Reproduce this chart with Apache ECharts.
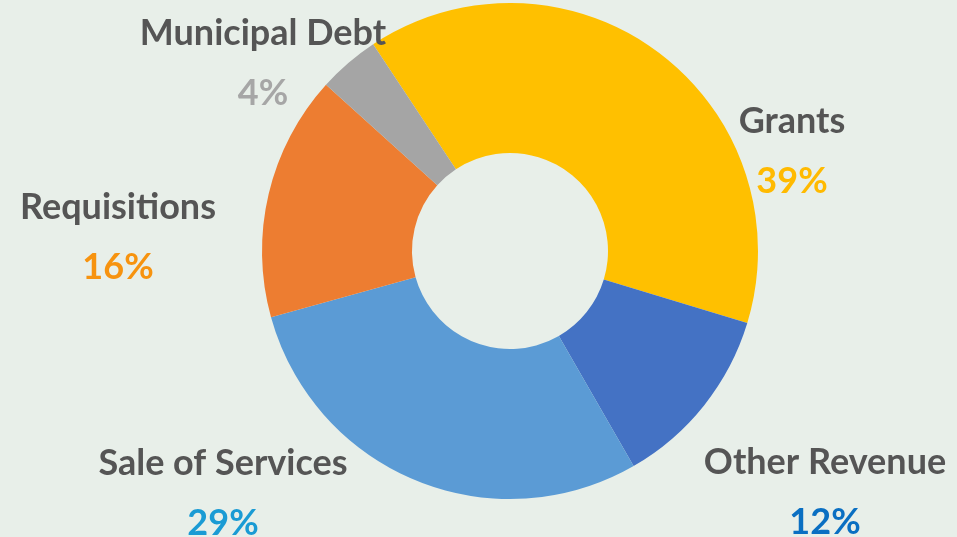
<!DOCTYPE html>
<html>
<head>
<meta charset="utf-8">
<script src="https://cdn.jsdelivr.net/npm/echarts@6/dist/echarts.min.js"></script>
<style>
  html, body { margin: 0; padding: 0; background: #e8efe9; }
  #chart { width: 957px; height: 537px; }
</style>
</head>
<body>
<div id="chart"></div>
<script>
// revenue sources (percent)
let categories = ['Grants', 'Other Revenue', 'Sale of Services', 'Requisitions', 'Municipal Debt']
let values = [39, 12, 29, 16, 4]

let sliceColors = ['#ffc000', '#4472c4', '#5b9bd5', '#ed7d31', '#a5a5a5']
let pctColors = ['#ffba00', '#0a6fc2', '#1a9bd4', '#f7930f', '#a6a6a6']
// label block centres (name + percent)
let labelPos = [[792, 151], [825, 492], [223, 493], [118, 237], [263, 63]]

let txt = { fontSize: 36, fontWeight: 'bold', fontFamily: 'Lato', lineHeight: 60, align: 'center' }
let rich = { n: Object.assign({}, txt, { color: '#555555' }) }
pctColors.forEach((c, i) => { rich['p' + i] = Object.assign({}, txt, { color: c }) })

let chart = echarts.init(document.getElementById('chart'))
let option = {
  backgroundColor: '#e8efe9',
  animation: false,
  series: [
    {
      type: 'pie',
      center: [510, 251],
      radius: [98, 248],
      startAngle: 123.5,
      clockwise: true,
      avoidLabelOverlap: false,
      itemStyle: { borderWidth: 0 },
      label: {
        show: true,
        position: 'outside',
        formatter: function (p) {
          return '{n|' + p.name + '}\n{p' + p.dataIndex + '|' + p.value + '%}'
        },
        rich: rich
      },
      labelLine: { show: false },
      labelLayout: function (params) {
        let pos = labelPos[params.dataIndex]
        return { x: pos[0], y: pos[1], align: 'center', verticalAlign: 'middle' }
      },
      data: categories.map((name, i) => ({
        name: name,
        value: values[i],
        itemStyle: { color: sliceColors[i] }
      }))
    }
  ]
}
chart.setOption(option)
</script>
</body>
</html>
